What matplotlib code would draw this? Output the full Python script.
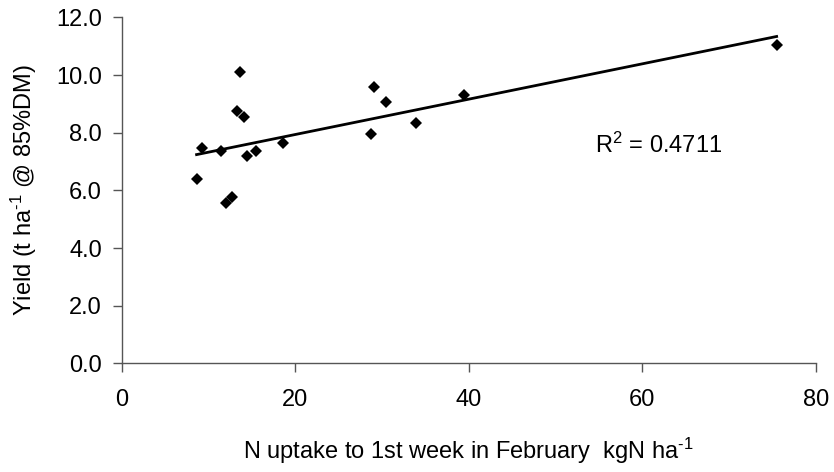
import numpy as np
import matplotlib
matplotlib.use("Agg")
import matplotlib.pyplot as plt

plt.rcParams['font.family'] = ['Liberation Sans', 'DejaVu Sans']
plt.rcParams['mathtext.fontset'] = 'custom'
plt.rcParams['mathtext.rm'] = 'Liberation Sans'
plt.rcParams['mathtext.it'] = 'Liberation Sans'

# N uptake (kgN/ha) by the first week of February, and grain yield (t/ha)
n_uptake = [8.6, 9.2, 11.4, 12.0, 12.7, 13.3, 13.6, 14.1, 14.4, 15.5,
            18.6, 28.7, 29.1, 30.4, 33.9, 39.5, 75.5]
yield_t = [6.39, 7.47, 7.37, 5.55, 5.76, 8.74, 10.11, 8.55, 7.21, 7.37,
           7.64, 7.97, 9.59, 9.05, 8.34, 9.32, 11.03]
r2_label = "0.4711"

x_ticks = [0, 20, 40, 60, 80]
y_ticks = [0, 2, 4, 6, 8, 10, 12]

x = np.array(n_uptake)
y = np.array(yield_t)
slope, intercept = np.polyfit(x, y, 1)
xf = np.array([x.min(), x.max()])

fig = plt.figure(figsize=(8.34, 4.72), dpi=100)
ax = fig.add_axes([0.1463, 0.2303, 0.978 - 0.1463, 0.963 - 0.2303])

ax.plot(xf, slope * xf + intercept, color='black', lw=2.0, zorder=2)
ax.plot(x, y, linestyle='none', marker='D', markersize=6.3,
        color='black', markeredgewidth=0, zorder=3)

ax.set_xlim(0, 80)
ax.set_ylim(0, 12)
ax.set_xticks(x_ticks)
ax.set_yticks(y_ticks)
ax.set_yticklabels([f"{v:.1f}" for v in y_ticks])

for side in ('top', 'right'):
    ax.spines[side].set_visible(False)
for side in ('left', 'bottom'):
    ax.spines[side].set_color('#555555')
    ax.spines[side].set_linewidth(1.0)

ax.tick_params(axis='both', direction='out', length=6.5, width=1.0,
               color='#555555', labelsize=17)
ax.tick_params(axis='y', pad=8)
ax.tick_params(axis='x', pad=12)

ax.set_xlabel(r"N uptake to 1st week in February  kgN ha$^{\text{-1}}$",
              fontsize=17, labelpad=18)
ax.set_ylabel(r"Yield (t ha$^{\text{-1}}$ @ 85%DM)", fontsize=17, labelpad=12)

ax.text(54.6, 7.3, "R$^2$ = " + r2_label, fontsize=17,
        ha='left', va='baseline')

fig.savefig("out.png", dpi=100)
